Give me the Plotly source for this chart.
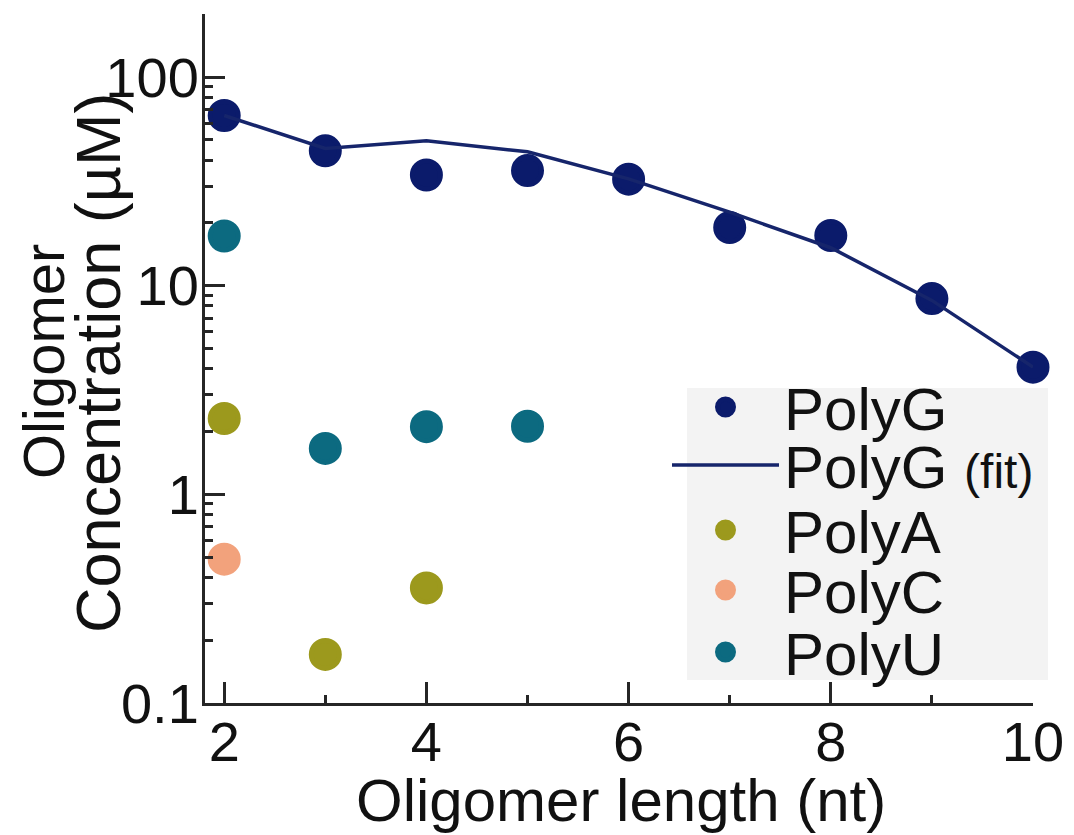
import plotly.graph_objects as go

# ---------------- data ----------------
lengths = [2, 3, 4, 5, 6, 7, 8, 9, 10]
polyG = [65.4, 44.3, 33.9, 35.6, 32.4, 19.0, 17.4, 8.67, 4.07]
polyG_fit = [65.4, 45.5, 49.5, 43.8, 32.5, 22.5, 15.2, 8.5, 4.07]

polyA_x = [2, 3, 4]
polyA = [2.31, 0.171, 0.356]

polyC_x = [2]
polyC = [0.489]

polyU_x = [2, 3, 4, 5]
polyU = [17.3, 1.66, 2.11, 2.12]

x_ticks = [2, 4, 6, 8, 10]
y_ticks = [0.1, 1, 10, 100]
y_tick_labels = ["0.1", "1", "10", "100"]

x_title = "Oligomer length (nt)"
y_title_1 = "Oligomer"
y_title_2 = "Concentration (µM)"

# ---------------- style ----------------
C_G = "#0b1b6b"
C_FIT = "#16256b"
C_A = "#9c991d"
C_C = "#f2a27c"
C_U = "#0c6a80"
FONT = "Liberation Sans, Arial, sans-serif"
MS = 28
MLW = 5

fig = go.Figure()

fig.add_trace(go.Scatter(
    x=lengths, y=polyG, mode="markers", name="PolyG",
    marker=dict(color=C_G, size=MS, line=dict(color=C_G, width=MLW)),
    cliponaxis=False, legend="legend"))
fig.add_trace(go.Scatter(
    x=lengths, y=polyG_fit, mode="lines",
    name="PolyG <span style='font-size:48px'>(fit)</span>",
    line=dict(color=C_FIT, width=3.5),
    cliponaxis=False, legend="legend2"))
fig.add_trace(go.Scatter(
    x=polyA_x, y=polyA, mode="markers", name="PolyA",
    marker=dict(color=C_A, size=MS, line=dict(color=C_A, width=MLW)),
    cliponaxis=False, legend="legend3"))
fig.add_trace(go.Scatter(
    x=polyC_x, y=polyC, mode="markers", name="PolyC",
    marker=dict(color=C_C, size=MS, line=dict(color=C_C, width=MLW)),
    cliponaxis=False, legend="legend4"))
fig.add_trace(go.Scatter(
    x=polyU_x, y=polyU, mode="markers", name="PolyU",
    marker=dict(color=C_U, size=MS, line=dict(color=C_U, width=MLW)),
    cliponaxis=False, legend="legend5"))

# plot geometry (pixels)
W, H = 1074, 835
L, R, T, B = 205, 41, 14, 132
pw, ph = W - L - R, H - T - B

def px_x(px):
    return (px - L) / pw

def px_y(py):
    return (H - B - py) / ph

ITEMW = 107
leg_common = dict(
    bgcolor="rgba(0,0,0,0)", borderwidth=0,
    font=dict(family=FONT, size=60, color="#111"),
    xanchor="left", yanchor="middle", itemwidth=ITEMW,
    itemsizing="trace",
)
row_centers = [407, 465, 530, 590, 652]
legend_layout = {}
for i, yc in enumerate(row_centers):
    key = "legend" if i == 0 else f"legend{i+1}"
    legend_layout[key] = dict(leg_common, x=px_x(667), y=px_y(yc))

axis_common = dict(
    showline=True, linecolor="#262626", linewidth=3,
    ticks="inside", tickcolor="#262626", tickwidth=2.5,
    showgrid=False, zeroline=False, mirror=False, automargin=False,
    tickfont=dict(family=FONT, size=56, color="#111"),
)

fig.update_layout(
    width=W, height=H,
    margin=dict(l=L, r=R, t=T, b=B, autoexpand=False),
    plot_bgcolor="white", paper_bgcolor="white",
    showlegend=True,
    xaxis=dict(
        axis_common,
        range=[1.81, 10.0],
        tickvals=x_ticks,
        ticklen=21,
        minor=dict(ticks="inside", ticklen=8, tickwidth=2.5, tickcolor="#262626", dtick=1, tick0=2),
        ticklabelstandoff=-12,
    ),
    yaxis=dict(
        axis_common,
        type="log",
        range=[-1, 2.302],
        tickvals=y_ticks,
        ticktext=y_tick_labels,
        ticklen=20,
        minor=dict(ticks="inside", ticklen=8, tickwidth=2.5, tickcolor="#262626", dtick="D1"),
        ticklabelstandoff=-8,
    ),
    shapes=[dict(
        type="rect", xref="paper", yref="paper", layer="below",
        x0=px_x(687), x1=px_x(1048), y0=px_y(680), y1=px_y(388),
        fillcolor="#f3f3f3", line=dict(width=0),
    )],
    annotations=[
        dict(text=y_title_1, xref="paper", yref="paper", x=px_x(43), y=px_y(362),
             showarrow=False, textangle=-90, xanchor="center", yanchor="middle",
             font=dict(family=FONT, size=58, color="#111")),
        dict(text=y_title_2, xref="paper", yref="paper", x=px_x(98), y=px_y(363),
             showarrow=False, textangle=-90, xanchor="center", yanchor="middle",
             font=dict(family=FONT, size=63, color="#111")),
        dict(text=x_title, xref="paper", yref="paper", x=px_x(621), y=px_y(800),
             showarrow=False, xanchor="center", yanchor="middle",
             font=dict(family=FONT, size=60, color="#111")),
    ],
    **legend_layout,
)

fig.write_html("out.html", config={"displayModeBar": False},
               post_script="document.body.style.margin='0px';")
